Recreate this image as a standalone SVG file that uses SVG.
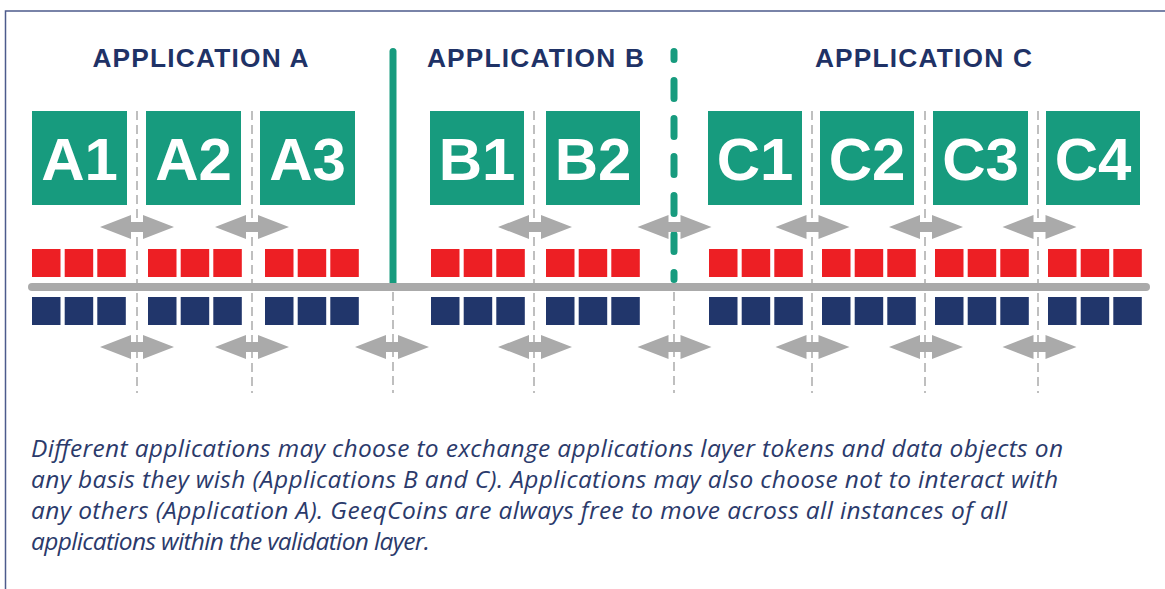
<svg xmlns="http://www.w3.org/2000/svg" width="1165" height="589" viewBox="0 0 1165 589">
<defs>
<style>
.title{font-family:"Liberation Sans",Arial,sans-serif;font-weight:700;font-size:26.3px;letter-spacing:1.2px;fill:#1f3266;text-anchor:middle}
.box{fill:#179b7e}
.lbl{font-family:"Liberation Sans",Arial,sans-serif;font-weight:700;font-size:60px;fill:#ffffff;text-anchor:middle}
.red{fill:#ed1f24}
.blue{fill:#21366b}
.dash{stroke:#aaaaaa;stroke-width:1.5;stroke-dasharray:9 5;fill:none}
.arr{fill:#aaaaaa}
.para{font-family:"Open Sans","Noto Sans",sans-serif;font-style:italic;font-size:24.5px;fill:#2b3a6b}
</style>
<path id="dar" d="M-37 0 L-6 -12 L-6 -5 L6 -5 L6 -12 L37 0 L6 12 L6 5 L-6 5 L-6 12 Z"/>
<g id="tok">
<rect x="0" y="0" width="28.5" height="28"/>
<rect x="32.7" y="0" width="28.5" height="28"/>
<rect x="65.3" y="0" width="28.5" height="28"/>
</g>
</defs>
<rect width="1165" height="589" fill="#ffffff"/>
<path d="M1165 11 H5.5 V589" fill="none" stroke="#4d5b8c" stroke-width="1.5"/>

<g id="titles">
<text class="title" x="201" y="67">APPLICATION A</text>
<text class="title" x="536" y="67">APPLICATION B</text>
<text class="title" x="924" y="67">APPLICATION C</text>
</g>

<g id="separators">
<line x1="393" y1="51.5" x2="393" y2="283" stroke="#179b7e" stroke-width="7" stroke-linecap="round"/>
<path d="M674 51.5V59.5M674 80.5V98.5M674 118.5V136.5M674 156.5V174.5M674 195.5V213.5M674 234.5V251.5M674 272.5V279.5" stroke="#179b7e" stroke-width="7" stroke-linecap="round" fill="none"/>
</g>

<g id="connectors">
<line class="dash" x1="137" y1="111" x2="137" y2="393"/>
<line class="dash" x1="252" y1="111" x2="252" y2="393"/>
<line class="dash" x1="393" y1="292" x2="393" y2="393"/>
<line class="dash" x1="534" y1="111" x2="534" y2="393"/>
<line class="dash" x1="674" y1="292" x2="674" y2="393"/>
<line class="dash" x1="812" y1="111" x2="812" y2="393"/>
<line class="dash" x1="925" y1="111" x2="925" y2="393"/>
<line class="dash" x1="1038" y1="111" x2="1038" y2="393"/>
<use href="#dar" class="arr" x="137" y="227"/>
<use href="#dar" class="arr" x="252" y="227"/>
<use href="#dar" class="arr" x="535" y="227"/>
<use href="#dar" class="arr" x="674.5" y="227"/>
<use href="#dar" class="arr" x="812.5" y="227"/>
<use href="#dar" class="arr" x="926" y="227"/>
<use href="#dar" class="arr" x="1039.5" y="227"/>
<use href="#dar" class="arr" x="137" y="347"/>
<use href="#dar" class="arr" x="252" y="347"/>
<use href="#dar" class="arr" x="392" y="347"/>
<use href="#dar" class="arr" x="535" y="347"/>
<use href="#dar" class="arr" x="674.5" y="347"/>
<use href="#dar" class="arr" x="812.5" y="347"/>
<use href="#dar" class="arr" x="926" y="347"/>
<use href="#dar" class="arr" x="1039.5" y="347"/>
</g>

<g id="validation-layer">
<line x1="32" y1="287" x2="1146" y2="287" stroke="#aaaaaa" stroke-width="8" stroke-linecap="round"/>
</g>

<g id="A1"><rect class="box" x="32" y="111" width="95" height="94"/><text class="lbl" x="79.5" y="180">A1</text>
<use href="#tok" class="red" x="32" y="249"/><use href="#tok" class="blue" x="32" y="297"/></g>
<g id="A2"><rect class="box" x="146" y="111" width="95" height="94"/><text class="lbl" x="193.5" y="180">A2</text>
<use href="#tok" class="red" x="148" y="249"/><use href="#tok" class="blue" x="148" y="297"/></g>
<g id="A3"><rect class="box" x="260" y="111" width="95" height="94"/><text class="lbl" x="307.5" y="180">A3</text>
<use href="#tok" class="red" x="265" y="249"/><use href="#tok" class="blue" x="265" y="297"/></g>
<g id="B1"><rect class="box" x="430" y="111" width="94" height="94"/><text class="lbl" x="477" y="180">B1</text>
<use href="#tok" class="red" x="431" y="249"/><use href="#tok" class="blue" x="431" y="297"/></g>
<g id="B2"><rect class="box" x="546" y="111" width="94" height="94"/><text class="lbl" x="593" y="180">B2</text>
<use href="#tok" class="red" x="546" y="249"/><use href="#tok" class="blue" x="546" y="297"/></g>
<g id="C1"><rect class="box" x="708" y="111" width="94" height="94"/><text class="lbl" x="755" y="180">C1</text>
<use href="#tok" class="red" x="709" y="249"/><use href="#tok" class="blue" x="709" y="297"/></g>
<g id="C2"><rect class="box" x="820" y="111" width="94" height="94"/><text class="lbl" x="867" y="180">C2</text>
<use href="#tok" class="red" x="822" y="249"/><use href="#tok" class="blue" x="822" y="297"/></g>
<g id="C3"><rect class="box" x="933" y="111" width="95" height="94"/><text class="lbl" x="980.5" y="180">C3</text>
<use href="#tok" class="red" x="935" y="249"/><use href="#tok" class="blue" x="935" y="297"/></g>
<g id="C4"><rect class="box" x="1046" y="111" width="94" height="94"/><text class="lbl" x="1093" y="180">C4</text>
<use href="#tok" class="red" x="1048" y="249"/><use href="#tok" class="blue" x="1048" y="297"/></g>

<g id="caption">
<text class="para" x="31" y="457" textLength="1032" lengthAdjust="spacing">Different applications may choose to exchange applications layer tokens and data objects on</text>
<text class="para" x="31" y="488" textLength="1027" lengthAdjust="spacing">any basis they wish (Applications B and C). Applications may also choose not to interact with</text>
<text class="para" x="31" y="519" textLength="976" lengthAdjust="spacing">any others (Application A). GeeqCoins are always free to move across all instances of all</text>
<text class="para" x="31" y="550" textLength="399" lengthAdjust="spacing">applications within the validation layer.</text>
</g>
</svg>
